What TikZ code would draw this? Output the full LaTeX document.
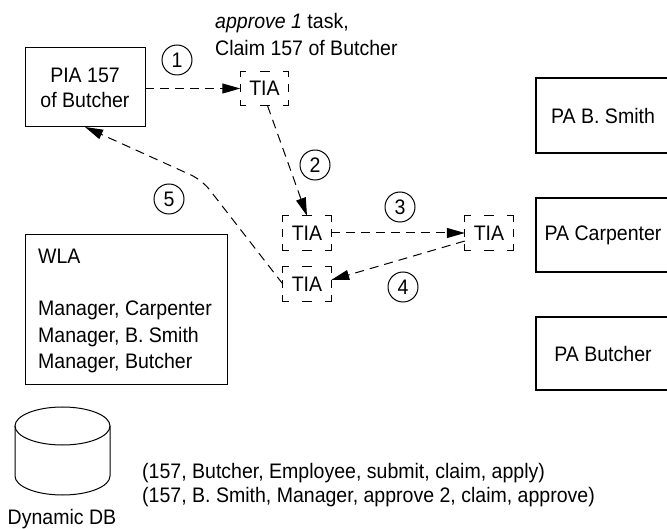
\documentclass[tikz,border=0pt]{standalone}
\usepackage{fontspec}
\setmainfont{Liberation Sans}[FakeStretch=0.93]
\usetikzlibrary{arrows.meta,shapes.geometric}
% broken frame of a task instance agent: corner brackets and a dash in the middle of each side
\newcommand\tiaframe[1]{%
  \draw[tiaedge] ([yshift=-6pt]#1.north west) -- (#1.north west) -- ([xshift=6pt]#1.north west);
  \draw[tiaedge] ([yshift=-6pt]#1.north east) -- (#1.north east) -- ([xshift=-6pt]#1.north east);
  \draw[tiaedge] ([yshift=6pt]#1.south west) -- (#1.south west) -- ([xshift=6pt]#1.south west);
  \draw[tiaedge] ([yshift=6pt]#1.south east) -- (#1.south east) -- ([xshift=-6pt]#1.south east);
  \draw[tiaedge] ([xshift=-5pt]#1.north) -- ([xshift=5pt]#1.north);
  \draw[tiaedge] ([xshift=-5pt]#1.south) -- ([xshift=5pt]#1.south);
  \draw[tiaedge] ([yshift=-4pt]#1.west) -- ([yshift=4pt]#1.west);
  \draw[tiaedge] ([yshift=-4pt]#1.east) -- ([yshift=4pt]#1.east);
}
\begin{document}
\begin{tikzpicture}[x=1pt,y=-1pt,
  every node/.style={font=\fontsize{21}{25}\selectfont, inner sep=0pt},
  plainbox/.style={draw, line width=1pt},
  pabox/.style={draw, line width=2pt},
  tiabox/.style={minimum width=48pt, minimum height=34pt},
  tiaedge/.style={line width=1pt},
  flow/.style={dashed, dash pattern=on 9pt off 6pt, line width=1pt, -{Triangle[length=18pt,width=10pt]}},
  stepnum/.style={draw, circle, line width=1pt, minimum size=30pt}
]
\useasboundingbox (0,0) rectangle (667,529);

% process instance agent
\draw[plainbox] (25,48) rectangle (145,127);
\node (pia) at (85,87.5) [align=center, minimum width=120pt, minimum height=79pt] {PIA 157\\of Butcher};

% task instance agents
\node[tiabox] (tia1) at (264.5,88.5) {TIA};
\node[tiabox] (tia2) at (307,233) {TIA};
\node[tiabox] (tia3) at (489,233) {TIA};
\node[tiabox] (tia4) at (307,284) {TIA};
\tiaframe{tia1}
\tiaframe{tia2}
\tiaframe{tia3}
\tiaframe{tia4}

\node[anchor=base west] (task1) at (215,29) {\textit{approve 1} task,};
\node[anchor=base west] (task2) at (215,56) {Claim 157 of Butcher};

% participant agents
\draw[pabox] (536,78) rectangle (690,153);
\draw[pabox] (536,198) rectangle (690,272);
\draw[pabox] (536,317) rectangle (690,390);
\node (pa1) at (603,115.5) {PA B. Smith};
\node (pa2) at (603,235) {PA Carpenter};
\node (pa3) at (603,353.5) {PA Butcher};

% worklist agent
\draw[plainbox] (25,235) rectangle (227,385);
\node[anchor=base west] (wla) at (38,264) {WLA};
\node[anchor=base west] (w1) at (38,316) {Manager, Carpenter};
\node[anchor=base west] (w2) at (38,343) {Manager, B. Smith};
\node[anchor=base west] (w3) at (38,369) {Manager, Butcher};

% dynamic database
\draw[line width=1pt] (15,426) -- (15,476) arc[start angle=180, end angle=360, x radius=47.5pt, y radius=19pt] -- (110,426);
\draw[line width=1pt] (62.5,426) ellipse[x radius=47.5pt, y radius=19pt];
\node[anchor=base] (db) at (62,524) {Dynamic DB};
\node[anchor=base west] (r1) at (142,478) {(157, Butcher, Employee, submit, claim, apply)};
\node[anchor=base west] (r2) at (142,502) {(157, B. Smith, Manager, approve 2, claim, approve)};

% message flow
\coordinate (pia-out) at (145,88.5);
\coordinate (bend) at (202,180);
\coordinate (pia-in) at (85,127);
\draw[flow] (pia-out) -- (tia1.west);
\draw[flow] ([xshift=3pt]tia1.south) -- (tia2.north);
\draw[flow] (tia2.east) -- (tia3.west);
\draw[flow] ([yshift=-8pt]tia3.west) -- ([yshift=4pt]tia4.east);
\draw[flow, rounded corners=12pt] (tia4.west) -- (bend) -- (pia-in);

\node[stepnum] (n1) at (177,60) {1};
\node[stepnum] (n2) at (315,165) {2};
\node[stepnum] (n3) at (400,207) {3};
\node[stepnum] (n4) at (403,287) {4};
\node[stepnum] (n5) at (169,199) {5};
\end{tikzpicture}
\end{document}
